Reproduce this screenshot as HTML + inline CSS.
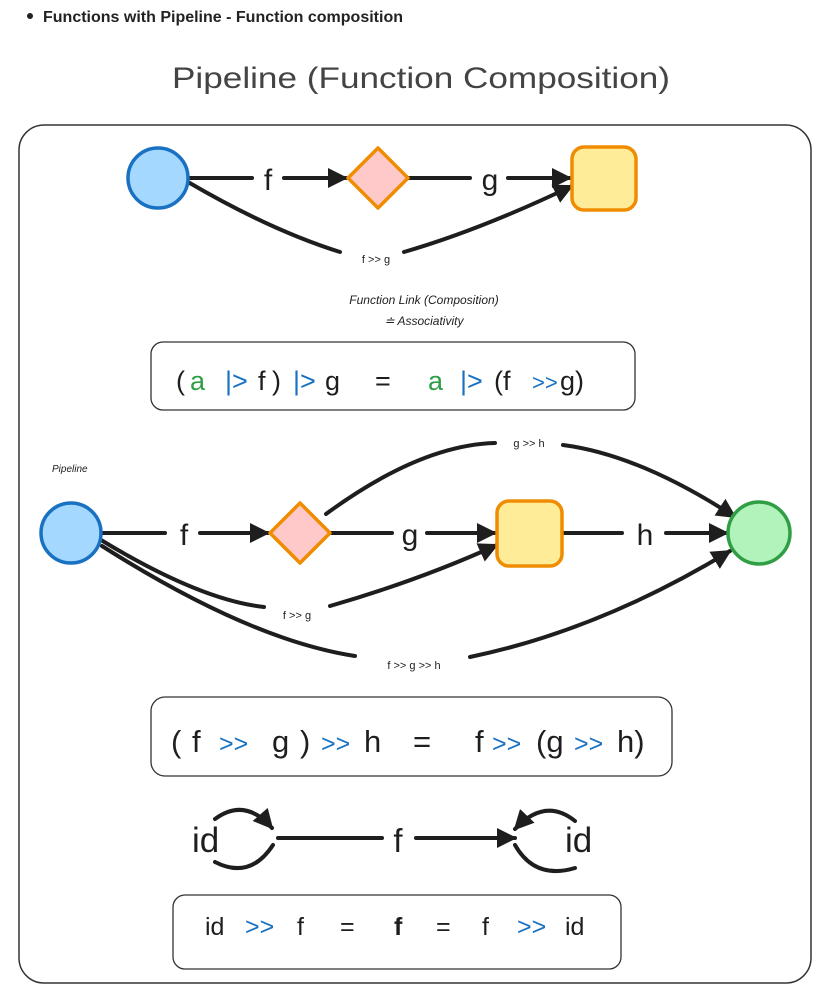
<!DOCTYPE html>
<html><head><meta charset="utf-8"><style>
html,body{margin:0;padding:0;background:#fff;}
svg{display:block;}
text{font-family:"Liberation Sans",sans-serif;}
</style></head><body>
<svg width="834" height="989" viewBox="0 0 834 989" xmlns="http://www.w3.org/2000/svg">
<defs>
<marker id="ar" viewBox="0 0 10 10" refX="9" refY="5" markerWidth="5" markerHeight="5" orient="auto" markerUnits="strokeWidth">
<path d="M0,0 L10,5 L0,10 z" fill="#1e1e1e"/></marker>
</defs>
<circle cx="30" cy="16" r="3" fill="#222"/>
<text x="43" y="22" font-size="16" font-weight="bold" fill="#222">Functions with Pipeline - Function composition</text>
<text x="172" y="88" font-size="30" fill="#444" textLength="498" lengthAdjust="spacingAndGlyphs" font-family="DejaVu Sans, sans-serif">Pipeline (Function Composition)</text>
<rect x="19" y="125" width="792" height="858" rx="25" fill="none" stroke="#333" stroke-width="1.5"/>

<g stroke="#1e1e1e" stroke-width="4" fill="none" stroke-linecap="round">
<!-- top diagram -->
<line x1="188" y1="178" x2="252" y2="178"/>
<line x1="284" y1="178" x2="346" y2="178" marker-end="url(#ar)"/>
<line x1="408" y1="178" x2="470" y2="178"/>
<line x1="508" y1="178" x2="570" y2="178" marker-end="url(#ar)"/>
<path d="M188,182 Q270,230 340,252"/>
<path d="M404,252 Q480,230 572,186" marker-end="url(#ar)"/>
<!-- second -->
<line x1="101" y1="533" x2="165" y2="533"/>
<line x1="200" y1="533" x2="268" y2="533" marker-end="url(#ar)"/>
<line x1="330" y1="533" x2="392" y2="533"/>
<line x1="427" y1="533" x2="495" y2="533" marker-end="url(#ar)"/>
<line x1="562" y1="533" x2="622" y2="533"/>
<line x1="666" y1="533" x2="727" y2="533" marker-end="url(#ar)"/>
<path d="M326,514 Q420,445 495,443"/>
<path d="M563,445 Q640,455 735,517" marker-end="url(#ar)"/>
<path d="M101,540 Q200,600 264,607"/>
<path d="M330,606 Q420,580 497,545" marker-end="url(#ar)"/>
<path d="M102,546 Q250,640 355,656"/>
<path d="M470,657 Q600,630 730,551" marker-end="url(#ar)"/>
<!-- id diagram -->
<line x1="278" y1="838" x2="382" y2="838"/>
<line x1="416" y1="838" x2="515" y2="838" marker-end="url(#ar)"/>
<path d="M215,819 Q245,797 272,828" marker-end="url(#ar)"/>
<path d="M215,862 Q250,880 273,845"/>
<path d="M575,821 Q545,797 515,829" marker-end="url(#ar)"/>
<path d="M515,845 Q535,880 575,868"/>
</g>

<!-- nodes top -->
<circle cx="158" cy="178" r="30" fill="#a5d8ff" stroke="#1971c2" stroke-width="3.5"/>
<polygon points="378,148 408,178 378,208 348,178" fill="#ffc9c9" stroke="#f08c00" stroke-width="3.5" stroke-linejoin="round"/>
<rect x="572" y="147" width="64" height="63" rx="12" fill="#ffec99" stroke="#f08c00" stroke-width="3.5"/>
<text x="268" y="190" font-size="30" fill="#1e1e1e" text-anchor="middle">f</text>
<text x="490" y="190" font-size="30" fill="#1e1e1e" text-anchor="middle">g</text>
<text x="376" y="263" font-size="11" fill="#1e1e1e" text-anchor="middle">f &gt;&gt; g</text>
<text x="424" y="304" font-size="12" fill="#1e1e1e" text-anchor="middle" font-style="italic">Function Link (Composition)</text>
<text x="424" y="325" font-size="12" fill="#1e1e1e" text-anchor="middle" font-style="italic">≐  Associativity</text>

<rect x="151" y="342" width="484" height="68" rx="12" fill="none" stroke="#333" stroke-width="1.3"/>
<g font-size="27" fill="#1e1e1e">
<text x="176" y="390">(</text><text x="190" y="390" fill="#2f9e44">a</text>
<text x="225" y="390" fill="#1971c2">|&gt;</text><text x="258" y="390">f</text><text x="272" y="390">)</text>
<text x="293" y="390" fill="#1971c2">|&gt;</text><text x="325" y="390">g</text>
<text x="375" y="390">=</text><text x="428" y="390" fill="#2f9e44">a</text>
<text x="460" y="390" fill="#1971c2">|&gt;</text><text x="494" y="390">(f</text>
<text x="532" y="390" fill="#1971c2" font-size="22">&gt;&gt;</text><text x="560" y="390">g)</text>
</g>

<!-- second -->
<text x="52" y="472" font-size="10" fill="#1e1e1e" font-style="italic">Pipeline</text>
<circle cx="71" cy="533" r="30" fill="#a5d8ff" stroke="#1971c2" stroke-width="3.5"/>
<polygon points="300,503 330,533 300,563 270,533" fill="#ffc9c9" stroke="#f08c00" stroke-width="3.5" stroke-linejoin="round"/>
<rect x="497" y="501" width="65" height="65" rx="12" fill="#ffec99" stroke="#f08c00" stroke-width="3.5"/>
<circle cx="759" cy="533" r="31" fill="#b2f2bb" stroke="#2f9e44" stroke-width="3.5"/>
<text x="184" y="545" font-size="30" fill="#1e1e1e" text-anchor="middle">f</text>
<text x="410" y="545" font-size="30" fill="#1e1e1e" text-anchor="middle">g</text>
<text x="645" y="545" font-size="30" fill="#1e1e1e" text-anchor="middle">h</text>
<text x="529" y="447" font-size="11" fill="#1e1e1e" text-anchor="middle">g &gt;&gt; h</text>
<text x="297" y="619" font-size="11" fill="#1e1e1e" text-anchor="middle">f &gt;&gt; g</text>
<text x="414" y="669" font-size="11" fill="#1e1e1e" text-anchor="middle">f &gt;&gt; g  &gt;&gt; h</text>

<rect x="151" y="697" width="521" height="79" rx="14" fill="none" stroke="#333" stroke-width="1.3"/>
<g font-size="31" fill="#1e1e1e">
<text x="171" y="752">(</text><text x="192" y="752">f</text>
<text x="219" y="752" fill="#1971c2" font-size="25">&gt;&gt;</text><text x="272" y="752">g</text><text x="300" y="752">)</text>
<text x="321" y="752" fill="#1971c2" font-size="25">&gt;&gt;</text><text x="364" y="752">h</text>
<text x="413" y="752">=</text><text x="475" y="752">f</text>
<text x="492" y="752" fill="#1971c2" font-size="25">&gt;&gt;</text><text x="536" y="752">(g</text>
<text x="574" y="752" fill="#1971c2" font-size="25">&gt;&gt;</text><text x="617" y="752">h)</text>
</g>

<!-- id -->
<text x="192" y="852" font-size="35" fill="#1e1e1e">id</text>
<text x="565" y="852" font-size="35" fill="#1e1e1e">id</text>
<text x="398" y="852" font-size="33" fill="#1e1e1e" text-anchor="middle">f</text>

<rect x="173" y="895" width="448" height="74" rx="12" fill="none" stroke="#333" stroke-width="1.3"/>
<g font-size="25" fill="#1e1e1e">
<text x="205" y="935">id</text><text x="245" y="935" fill="#1971c2">&gt;&gt;</text>
<text x="297" y="935">f</text><text x="340" y="935">=</text>
<text x="394" y="935" font-weight="bold">f</text><text x="436" y="935">=</text>
<text x="482" y="935">f</text><text x="517" y="935" fill="#1971c2">&gt;&gt;</text><text x="565" y="935">id</text>
</g>
</svg>
</body></html>
